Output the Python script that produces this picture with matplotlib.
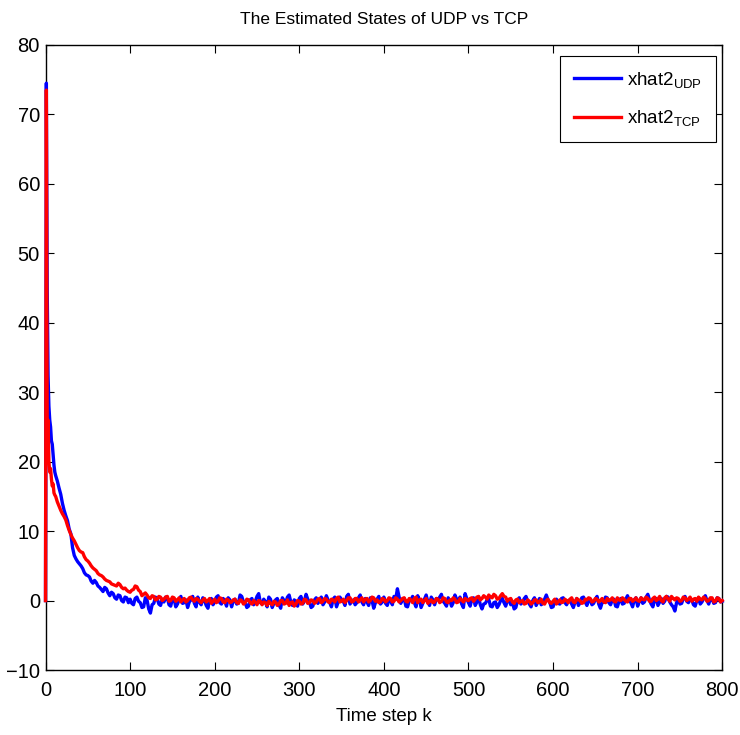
import matplotlib
matplotlib.use("Agg")
import matplotlib.pyplot as plt
from matplotlib import font_manager
import numpy as np

# ---- data ----
k_start = list(range(0, 12))
k_decay = list(range(12, 100, 2))
k_tail = list(range(100, 801, 2))

udp_start = [0, 74.5, 45, 32.4, 28, 26, 25, 23, 22.5, 21, 19.5, 18.5]
tcp_start = [0, 73.5, 24, 26, 20, 18.5, 19, 17.5, 16.5, 16.8, 15.5, 15.2]

udp_decay = [18.0, 17.2, 16.2, 15.3, 14.0, 13.0, 12.2, 11.5, 10.3, 9.6,
             7.6, 6.5, 6.0, 5.6, 5.3, 5.0, 4.6, 4.0, 3.7, 3.6,
             3.4, 2.8, 2.5, 2.9, 2.6, 2.1, 1.9, 1.6, 1.3, 1.9,
             1.7, 1.1, 0.7, 1.2, 1.0, 0.4, 0.2, 0.8, 0.7, 0.0,
             -0.2, 0.5, 0.4, -0.3]
tcp_decay = [15.0, 14.2, 13.6, 13.0, 12.5, 12.1, 11.6, 10.8, 10.1, 9.5,
             9.0, 8.6, 8.1, 7.6, 7.2, 7.0, 6.9, 6.3, 5.9, 5.7,
             5.4, 5.0, 4.7, 4.5, 4.3, 3.9, 3.7, 3.6, 3.4, 3.1,
             2.9, 2.8, 2.7, 2.4, 2.3, 2.2, 2.1, 2.5, 2.3, 1.9,
             1.7, 1.8, 1.5, 1.3]

udp_tail = [
    0.2, -0.4, -0.6, 0.3, 0.5, -0.1, -0.3, -1.0, -0.9, 0.4, 0.1, -1.2, -1.8, -0.6, -0.4, 0.5, 0.3, -0.5, -0.7, 0.2,
    -0.2, 0.5, 0.4, -0.6, -0.8, 0.3, 0.2, -0.9, -0.5, 0.2, 0.6, -0.4, -0.3, 0.1, -1.0, -0.2, 0.1, 0.6, -0.4, -0.9,
    0.5, -0.2, -0.6, 0.4, 0.0, -0.7, -1.1, 0.2, 0.3, -0.6, -0.2, 0.5, 0.7, -0.3, -0.5, 0.3, -0.1, -0.8, 0.4, 0.1,
    -0.9, 0.0, 0.2, -0.5, -0.4, 0.8, 0.6, -0.2, -0.3, -1.0, -0.8, 0.1, 0.3, -0.6, -0.1, 0.6, 1.0, -0.3, -0.5, 0.2,
    -0.2, -0.9, 0.5, 0.2, -1.0, -0.4, 0.1, 0.3, -0.6, -1.1, 0.4, 0.0, -0.3, 0.5, 0.8, -0.2, -0.7, 0.1, -0.1, -0.8,
    0.3, 0.6, -0.5, -0.1, 0.9, 0.2, -0.2, -1.0, -0.8, 0.1, 0.4, -0.4, 0.0, 0.5, -0.6, -0.2, 0.7, 0.1, -0.3, -0.9,
    0.2, 0.5, -0.9, -0.2, 0.5, 0.1, -0.1, -0.7, 0.6, 0.9, -0.5, -0.1, 0.1, -0.6, -0.3, 0.4, 0.8, -0.2, -0.6, 0.3,
    -0.2, -0.7, 0.4, 0.0, -1.1, -0.3, 0.2, 0.6, -0.5, -0.2, 0.5, -0.4, -0.7, 0.1, 0.0, -0.6, 0.6, 0.2, 1.7, 0.5,
    -0.4, 0.2, 0.3, -0.8, -0.9, 0.0, 0.1, 0.6, -0.3, -0.9, 0.7, 0.1, -1.0, -0.4, 0.2, 0.8, -0.2, -0.7, 0.5, 0.1,
    -0.6, 0.3, 0.1, 0.5, 0.9, -0.1, -0.4, -0.8, 0.4, 0.0, -0.8, -0.3, 0.8, 0.2, -0.1, 0.5, -0.5, -1.0, 1.0, 0.3,
    -0.3, -0.8, 0.2, 0.4, -0.7, -0.2, 0.5, -0.6, -1.2, -0.5, -0.4, 0.1, 0.2, -0.8, -0.9, -0.3, -0.2, -1.0, -0.6, 0.0,
    0.3, -0.3, -0.8, 0.0, 0.1, -0.6, -0.3, -1.2, -1.0, 0.0, 0.4, -0.5, -0.2, 0.3, 0.6, -0.1, -0.5, -0.9, 0.0, 0.4,
    -0.7, -0.2, 0.3, -0.6, -0.4, 0.2, 0.8, 0.1, -0.2, -1.0, -0.9, -0.1, 0.2, -0.4, -0.5, 0.3, 0.4, -0.3, -0.6, 0.0,
    0.1, -0.5, -1.0, -0.2, 0.3, -0.7, -0.3, 0.4, 0.5, -0.2, -0.7, 0.1, 0.0, -0.6, -0.4, 0.2, 0.6, -0.5, -1.1, -0.3,
    -0.2, 0.5, 0.4, -0.3, -0.6, 0.1, 0.2, -0.8, -0.9, -0.1, 0.3, -0.5, -0.4, 0.2, 0.7, 0.0, -0.3, -0.9, 0.1, 0.4,
    -0.8, -0.1, 0.4, -0.4, -0.2, 0.5, 0.9, 0.1, -0.5, -0.9, 0.1, 0.3, -0.7, -0.2, 0.3, -0.4, -0.1, 0.6, 0.5, -0.2,
    -0.6, -0.9, -1.5, -0.3, 0.2, -0.5, -0.4, 0.3, 0.6, -0.1, -0.3, 0.2, 0.1, -0.6, -0.8, 0.0, 0.4, -0.5, -0.2, 0.3,
    0.7, 0.0, -0.5, 0.3, 0.2, -0.4, -0.3, 0.4, 0.3, -0.2, -0.1]

tcp_tail = [
    1.2, 1.5, 1.6, 2.1, 2.0, 1.5, 1.3, 0.7, 0.9, 1.1, 0.8, 0.4, 0.3, 0.7, 0.6, 0.1, 0.2, 0.6, 0.5, 0.0,
    0.2, 0.5, 0.6, -0.1, 0.0, 0.5, 0.4, -0.1, 0.1, 0.4, -0.2, 0.1, 0.3, -0.2, 0.0, 0.4, 0.5, 0.1, -0.1, 0.3,
    0.2, -0.1, -0.3, 0.1, 0.3, -0.2, 0.0, 0.3, -0.4, -0.1, 0.2, -0.3, -0.1, 0.4, 0.3, -0.2, -0.3, 0.2, 0.1, -0.3,
    -0.2, 0.1, 0.2, -0.3, -0.4, 0.1, 0.0, -0.5, -0.3, 0.2, 0.1, -0.3, -0.5, 0.0, -0.2, -0.6, 0.0, -0.1, -0.6, -0.2,
    -0.3, -0.7, -0.1, -0.4, -0.6, -0.1, -0.2, -0.7, -0.5, 0.0, 0.0, -0.5, -0.4, 0.1, -0.7, -0.3, -0.2, -0.8, -0.5, 0.0,
    -0.1, -0.5, -0.4, 0.2, 0.1, -0.4, -0.3, 0.1, 0.0, -0.4, -0.2, 0.2, 0.3, -0.3, -0.1, 0.3, 0.2, -0.2, -0.3, 0.2,
    0.1, -0.2, 0.3, 0.5, -0.2, -0.1, 0.2, -0.3, 0.0, 0.4, 0.4, -0.2, -0.1, 0.3, 0.3, -0.2, 0.1, 0.4, -0.2, 0.2,
    0.3, -0.2, 0.0, 0.5, 0.4, -0.1, 0.1, -0.3, -0.2, 0.3, 0.2, -0.2, 0.0, 0.4, 0.3, -0.2, -0.1, 0.4, 0.2, -0.2,
    0.0, 0.3, 0.4, -0.1, -0.2, 0.3, 0.1, -0.3, 0.3, 0.5, -0.3, 0.1, 0.2, -0.3, 0.0, 0.3, -0.4, -0.1, 0.1, -0.3,
    -0.2, 0.3, 0.2, -0.3, -0.1, 0.4, 0.3, -0.2, -0.3, 0.1, 0.0, 0.4, 0.2, -0.3, -0.2, 0.3, 0.1, -0.2, 0.3, 0.1,
    0.0, 0.3, 0.4, -0.1, 0.2, 0.5, 0.6, 0.1, 0.3, 0.7, 0.5, 0.2, 0.8, 0.5, 0.4, 0.9, 0.7, 0.2, 0.3, 0.7,
    1.0, 0.6, 0.5, -0.1, 0.2, 0.3, -0.2, -0.4, 0.1, 0.2, -0.3, -0.1, 0.0, -0.5, -0.4, 0.1, -0.1, -0.5, -0.3, 0.1,
    0.1, -0.3, -0.2, 0.2, -0.4, -0.5, 0.0, 0.2, -0.3, -0.4, -0.1, 0.2, -0.5, -0.2, 0.1, -0.3, -0.2, 0.2, 0.0, -0.3,
    0.2, 0.4, -0.2, -0.3, 0.3, 0.1, 0.0, -0.4, -0.3, 0.2, 0.1, 0.4, 0.3, -0.2, -0.1, 0.3, 0.2, -0.2, 0.0, 0.3,
    -0.2, -0.3, 0.3, 0.0, 0.1, 0.4, -0.1, -0.2, 0.4, 0.1, 0.0, 0.4, 0.2, -0.1, -0.2, 0.3, 0.3, -0.1, 0.1, 0.4,
    0.0, -0.1, 0.4, 0.2, 0.1, 0.5, 0.3, -0.1, -0.1, 0.3, 0.5, 0.0, 0.2, 0.6, 0.0, -0.2, 0.4, 0.6, 0.2, -0.1,
    0.6, 0.3, 0.1, 0.4, 0.3, -0.1, 0.0, 0.5, 0.4, 0.0, 0.2, 0.5, -0.1, 0.2, 0.3, -0.1, 0.5, 0.2, 0.1, 0.5,
    0.3, -0.1, 0.0, 0.4, 0.4, -0.2, -0.1, 0.4, 0.3, -0.2, 0.0]

x_ticks = [0, 100, 200, 300, 400, 500, 600, 700, 800]
y_ticks = [-10, 0, 10, 20, 30, 40, 50, 60, 70, 80]

# ---- fonts ----
names = {f.name for f in font_manager.fontManager.ttflist}
fam = "Liberation Sans Narrow" if "Liberation Sans Narrow" in names else "Liberation Sans"
plt.rcParams["font.family"] = [fam, "DejaVu Sans"]
plt.rcParams["mathtext.fontset"] = "custom"
plt.rcParams["mathtext.rm"] = fam
plt.rcParams["mathtext.it"] = fam

k = np.array(k_start + k_decay + k_tail)
udp = np.array(udp_start + udp_decay + udp_tail)
tcp = np.array(tcp_start + tcp_decay + tcp_tail)

fig = plt.figure(figsize=(7.4, 7.35), dpi=100)
ax = fig.add_axes([0.0615, 0.0884, 0.9145, 0.8504])

ax.plot(k, udp, color="#0000ff", lw=2.4, label=r"xhat2$_{\mathrm{UDP}}$",
        zorder=3, clip_on=False)
ax.plot(k, tcp, color="#ff0000", lw=2.4, label=r"xhat2$_{\mathrm{TCP}}$",
        zorder=4, clip_on=False)

ax.set_xlim(0, 800)
ax.set_ylim(-10, 80)
ax.set_xticks(x_ticks)
ax.set_yticks(y_ticks)
ax.set_yticklabels([("\u2212" + str(-v)) if v < 0 else str(v) for v in y_ticks])
ax.tick_params(direction="in", length=6, width=0.8, top=True, right=True,
               labelsize=14.5)
ax.tick_params(axis="x", pad=8)
ax.tick_params(axis="y", pad=4)
for s in ax.spines.values():
    s.set_linewidth(1.0)

ax.set_title("The Estimated States of UDP vs TCP", fontsize=12.5, pad=15)
ax.set_xlabel("Time step k", fontsize=13.5, labelpad=6)

leg = ax.legend(loc="upper right", bbox_to_anchor=(0.991, 0.983),
                fontsize=13.5, fancybox=False, framealpha=1,
                edgecolor="black", handlelength=2.5, handletextpad=0.3,
                borderaxespad=0.0, labelspacing=1.0, borderpad=0.75)
leg.get_frame().set_linewidth(0.8)
leg.set_zorder(5)

fig.savefig("out.png", dpi=100)
